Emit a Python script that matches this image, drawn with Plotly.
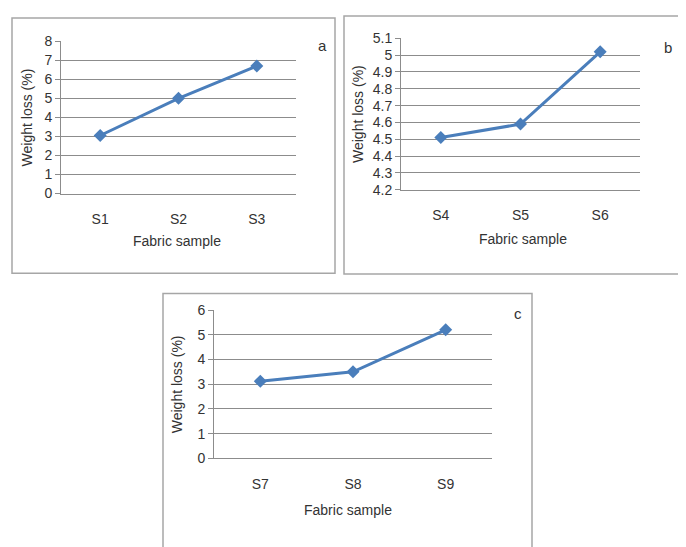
import plotly.graph_objects as go

# the page has an 8px body margin, so the figure is drawn 8px in from the window edge
OFF = 8
W, H = 686 - OFF, 547 - OFF

cats_a = ["S1", "S2", "S3"]
vals_a = [3.05, 5.0, 6.7]
cats_b = ["S4", "S5", "S6"]
vals_b = [4.51, 4.59, 5.02]
cats_c = ["S7", "S8", "S9"]
vals_c = [3.12, 3.5, 5.2]

yticks_a = [0, 1, 2, 3, 4, 5, 6, 7, 8]
yticks_b = [4.2, 4.3, 4.4, 4.5, 4.6, 4.7, 4.8, 4.9, 5.0, 5.1]
ytick_labels_b = ["4.2", "4.3", "4.4", "4.5", "4.6", "4.7", "4.8", "4.9", "5", "5.1"]
yticks_c = [0, 1, 2, 3, 4, 5, 6]
panel_labels = ["a", "b", "c"]
xtitle = "Fabric sample"
ytitle = "Weight loss (%)"

FONT = "Liberation Sans"
TXT = "#333333"
BLUE = "#4a7ebb"
GRID = "#8c8c8c"
BOX = "#a6a6a6"

def px(x):
    return (x - OFF) / W

def py(y):
    return 1 - (y - OFF) / H

panels = [
    dict(cats=cats_a, vals=vals_a, xd=(61, 296), yd=(34, 191), yr=(0, 8), tv=yticks_a,
         tt=[str(t) for t in yticks_a], box=(12, 10, 335, 273), lab=(322, 38), ytx=27, xt=(177, 240)),
    dict(cats=cats_b, vals=vals_b, xd=(401, 640), yd=(31, 187), yr=(4.2, 5.1), tv=yticks_b,
         tt=ytick_labels_b, box=(344, 8, 682, 274), lab=(668, 40), ytx=358, xt=(523, 238)),
    dict(cats=cats_c, vals=vals_c, xd=(214, 492), yd=(311, 464), yr=(0, 6), tv=yticks_c,
         tt=[str(t) for t in yticks_c], box=(163, 294, 532, 560), lab=(518, 315), ytx=177, xt=(348, 517)),
]

fig = go.Figure()
layout = dict(
    width=W, height=H, margin=dict(l=0, r=0, t=0, b=0),
    paper_bgcolor="white", plot_bgcolor="white", showlegend=False,
    font=dict(family=FONT, size=14, color=TXT),
)
shapes = []
annotations = []

for i, p in enumerate(panels):
    n = "" if i == 0 else str(i + 1)
    fig.add_trace(go.Scatter(
        x=p["cats"], y=p["vals"], mode="lines+markers",
        line=dict(color=BLUE, width=3),
        marker=dict(symbol="diamond", size=10, color=BLUE),
        xaxis="x" + n, yaxis="y" + n, hoverinfo="skip",
    ))
    layout["xaxis" + n] = dict(
        domain=[px(p["xd"][0]), px(p["xd"][1])], anchor="y" + n,
        type="category", range=[-0.5, 2.5], showgrid=False,
        showline=True, linecolor=GRID, linewidth=1, ticks="",
        ticklabelstandoff=13, tickfont=dict(size=14, color=TXT),
        fixedrange=True, zeroline=False,
    )
    layout["yaxis" + n] = dict(
        domain=[py(p["yd"][1]), py(p["yd"][0])], anchor="x" + n,
        range=list(p["yr"]), tickvals=p["tv"], ticktext=p["tt"],
        showgrid=True, gridcolor=GRID, gridwidth=1,
        showline=True, linecolor=GRID, linewidth=1,
        ticks="outside", ticklen=5, tickcolor=GRID,
        tickfont=dict(size=14, color=TXT), zeroline=False, fixedrange=True,
    )
    b = p["box"]
    shapes.append(dict(type="rect", xref="paper", yref="paper",
                       x0=px(b[0]), x1=px(b[2]), y0=py(b[3]), y1=py(b[1]),
                       line=dict(color=BOX, width=1.5), fillcolor="rgba(0,0,0,0)", layer="below"))
    annotations.append(dict(text=panel_labels[i], x=px(p["lab"][0]), y=py(p["lab"][1]),
                            xref="paper", yref="paper", showarrow=False,
                            font=dict(size=15, color=TXT), xanchor="center", yanchor="middle"))
    annotations.append(dict(text=xtitle, x=px(p["xt"][0]), y=py(p["xt"][1]),
                            xref="paper", yref="paper", showarrow=False,
                            font=dict(size=14, color=TXT), xanchor="center", yanchor="middle"))
    annotations.append(dict(text=ytitle, x=px(p["ytx"]), y=py((p["yd"][0] + p["yd"][1]) / 2),
                            xref="paper", yref="paper", showarrow=False, textangle=-90,
                            font=dict(size=14, color=TXT), xanchor="center", yanchor="middle"))

layout["shapes"] = shapes
layout["annotations"] = annotations
fig.update_layout(**layout)
fig.write_html("out.html", config={"displayModeBar": False})
